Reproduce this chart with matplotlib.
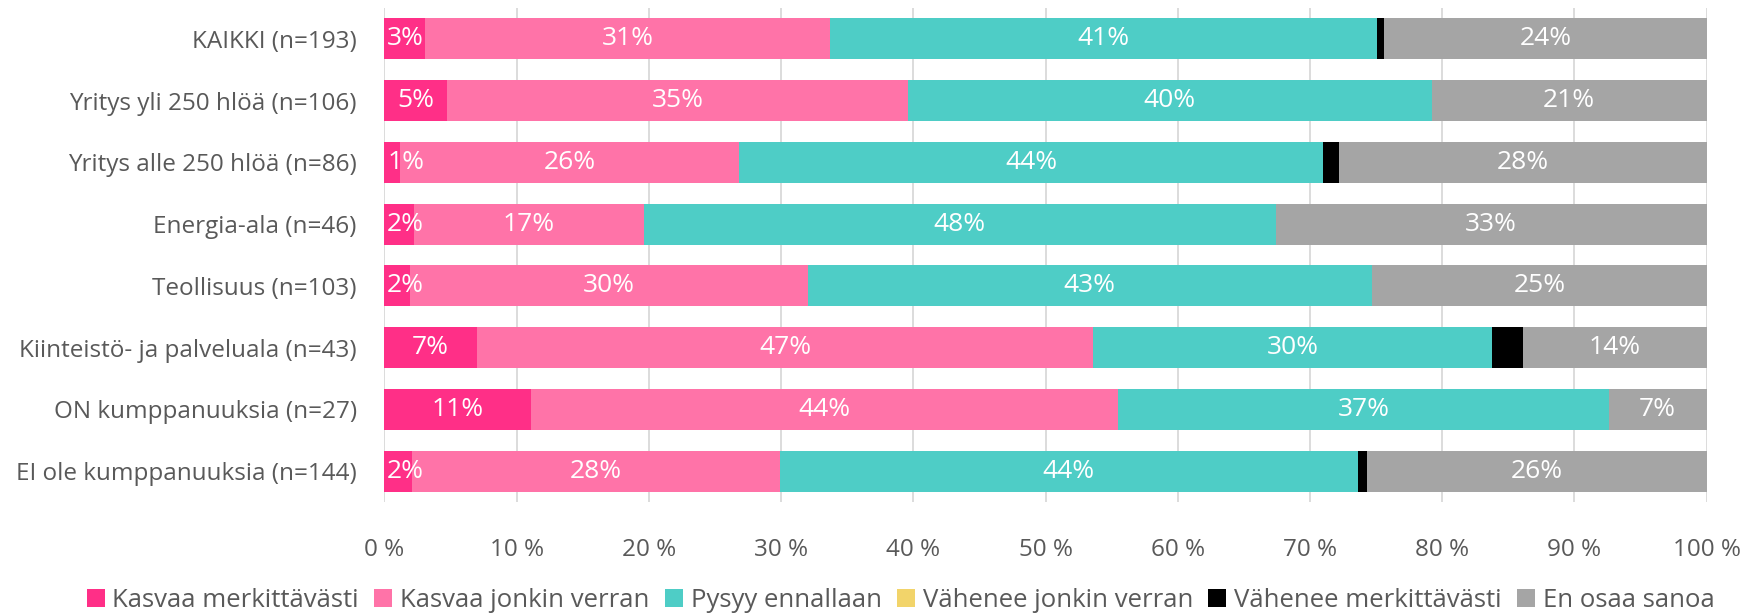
import matplotlib
matplotlib.use("Agg")
import matplotlib.pyplot as plt
from matplotlib.patches import Patch
import numpy as np

plt.rcParams['font.family'] = ['Open Sans', 'DejaVu Sans']

categories = ["KAIKKI (n=193)", "Yritys yli 250 hlöä (n=106)", "Yritys alle 250 hlöä (n=86)",
              "Energia-ala (n=46)", "Teollisuus (n=103)", "Kiinteistö- ja palveluala (n=43)",
              "ON kumppanuuksia (n=27)", "EI ole kumppanuuksia (n=144)"]

series_names = ["Kasvaa merkittävästi", "Kasvaa jonkin verran", "Pysyy ennallaan",
                "Vähenee jonkin verran", "Vähenee merkittävästi", "En osaa sanoa"]

kasvaa_merk = [3.1, 4.7, 1.2, 2.2, 1.9, 7.0, 11.1, 2.1]
kasvaa_jonkin = [30.6, 34.9, 25.6, 17.4, 30.1, 46.6, 44.4, 27.8]
pysyy = [41.4, 39.6, 44.2, 47.8, 42.7, 30.2, 37.1, 43.7]
vahenee_jonkin = [0, 0, 0, 0, 0, 0, 0, 0]
vahenee_merk = [0.5, 0, 1.2, 0, 0, 2.3, 0, 0.7]
en_osaa = [24.4, 20.8, 27.8, 32.6, 25.3, 13.9, 7.4, 25.7]

colors = ["#FF2F87", "#FF73A8", "#4ECDC6", "#F2D46A", "#000000", "#A5A5A5"]
show_labels = [True, True, True, True, False, True]

xticks = [0, 10, 20, 30, 40, 50, 60, 70, 80, 90, 100]
xtick_labels = [f"{t} %" for t in xticks]

data = [kasvaa_merk, kasvaa_jonkin, pysyy, vahenee_jonkin, vahenee_merk, en_osaa]

fig = plt.figure(figsize=(17.42, 6.14), dpi=100)
ax = fig.add_axes([0.2207, 0.1824, 0.7590, 0.8046])

y = np.arange(len(categories))
left = np.zeros(len(categories))
txtcol = "#595959"
fs = 17.5
for vals, col, name, show in zip(data, colors, series_names, show_labels):
    vals = np.array(vals, dtype=float)
    ax.barh(y, vals, left=left, height=0.665, color=col, label=name, zorder=3)
    if show:
        for i, v in enumerate(vals):
            if v > 0.4:
                if v < 2.6:
                    ax.text(left[i] + 0.2, y[i], f"{round(v):.0f}%", ha="left", va="center",
                            color="white", fontsize=19, zorder=4)
                else:
                    ax.text(left[i] + v / 2, y[i], f"{round(v):.0f}%", ha="center", va="center",
                            color="white", fontsize=19, zorder=4)
    left += vals

ax.set_xlim(0, 100)
ax.set_ylim(len(categories) - 0.5, -0.5)
ax.set_yticks(y)
ax.set_yticklabels(categories, fontsize=fs, color=txtcol)
ax.set_xticks(xticks)
ax.set_xticklabels(xtick_labels, fontsize=fs, color=txtcol)
ax.tick_params(axis="both", length=0)
ax.tick_params(axis="y", pad=20)
ax.tick_params(axis="x", pad=26)
ax.grid(axis="x", color="#D9D9D9", linewidth=1.3, zorder=0)
for s in ax.spines.values():
    s.set_visible(False)

handles = [Patch(facecolor=c, edgecolor="none") for c in colors]
fig.legend(handles, series_names, loc="center", bbox_to_anchor=(0.517, 0.022), ncol=6,
           frameon=False, fontsize=18.5, labelcolor=txtcol, handlelength=0.7, handleheight=0.7,
           handletextpad=0.3, columnspacing=0.6)

fig.savefig("out.png", dpi=100)
